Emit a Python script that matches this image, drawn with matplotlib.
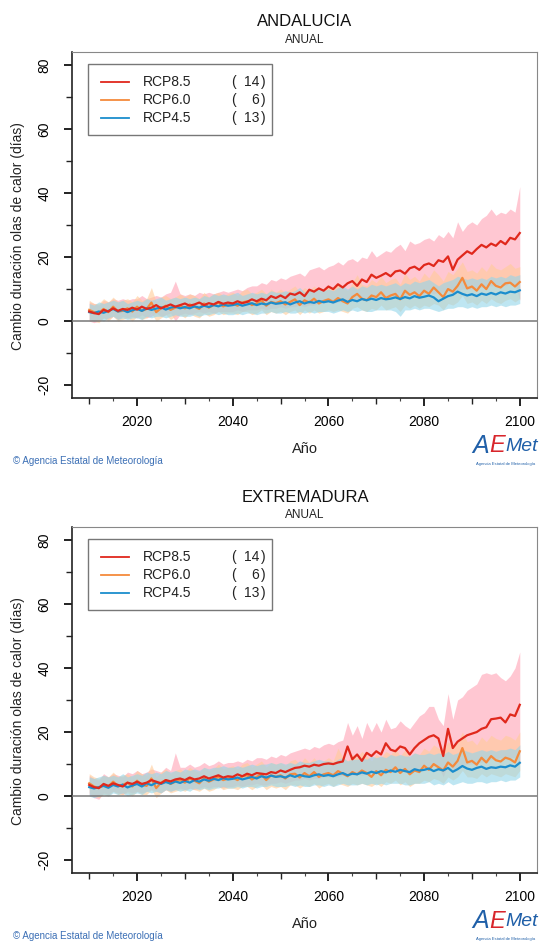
import numpy as np
import matplotlib
matplotlib.use('Agg')
from matplotlib import pyplot as plt
from matplotlib.lines import Line2D
from matplotlib.patches import Rectangle
from matplotlib.ticker import MultipleLocator

plt.rcParams['font.family'] = ['Liberation Sans', 'DejaVu Sans']
plt.rcParams['axes.unicode_minus'] = False

years = np.arange(2010, 2101)
regions = ['ANDALUCIA', 'EXTREMADURA']
scenarios = ['RCP8.5', 'RCP6.0', 'RCP4.5']
n_models = [14, 6, 13]

# ANDALUCIA
and_85 = [3.0, 2.5, 2.2, 3.5, 3.0, 4.0, 3.2, 3.8, 3.5, 4.2,
          3.6, 4.5, 3.8, 4.2, 5.0, 4.0, 4.6, 5.2, 4.5, 5.0,
          5.5, 4.8, 5.2, 5.8, 5.0, 5.6, 5.2, 6.0, 5.4, 5.8,
          5.5, 6.2, 5.6, 6.0, 6.8, 6.2, 7.0, 6.5, 7.8, 7.2,
          8.0, 7.2, 8.6, 8.2, 9.0, 7.8, 9.8, 9.2, 10.2, 9.5,
          10.8, 10.0, 11.5, 10.5, 11.8, 12.5, 11.0, 13.0, 12.2, 14.5,
          13.5, 14.2, 15.0, 14.0, 15.5, 15.8, 14.8, 16.5, 17.0, 16.0,
          17.5, 18.0, 17.2, 19.0, 18.5, 20.2, 16.0, 19.2, 20.5, 21.8,
          21.0, 22.5, 23.8, 23.0, 24.2, 23.5, 25.0, 24.0, 26.0, 25.5, 27.5]
and_85_hi = [6, 5.5, 5, 6.5, 6, 7, 6.5, 7, 6.5, 7,
             7, 8, 7, 7.5, 8, 7.5, 8.5, 9, 12.5, 8.5,
             8, 8.5, 8, 9, 8.5, 9, 8.5, 9, 9.5, 9,
             9.5, 10, 9.5, 10.5, 11, 11, 12, 11.5, 13, 12.5,
             13.5, 13, 14, 14.5, 15, 14, 16, 16.5, 17, 16,
             17, 17.5, 18.5, 17.5, 19, 19.5, 18.5, 20, 19.5, 22,
             20, 21, 22, 21.5, 23, 24, 22, 25, 24, 24.5,
             25.5, 26, 25, 27, 26, 28, 26, 31, 28, 30,
             31, 30, 32, 33, 35, 33, 34, 33.5, 35, 34, 42]
and_85_lo = [0, -0.5, 0, 1, 0.5, 1.5, 0.5, 1.5, 1, 1.5,
             1, 2, 1, 1.5, 2.5, 1.5, 2, 2.5, 0, 2,
             2.5, 2, 2.5, 3, 2.5, 3, 2.5, 3, 3, 3,
             3, 3.5, 3, 3.5, 3.5, 3.5, 4, 3.5, 4, 4,
             4.5, 4, 4.5, 4.5, 5, 4.5, 5, 5, 5.5, 5.5,
             6, 5.5, 6, 6, 6.5, 6.5, 6, 7, 6.5, 7,
             7, 7.5, 7.5, 7, 8, 8, 7.5, 8, 8.5, 8,
             8.5, 9, 8.5, 9, 9, 9.5, 8.5, 9.5, 10, 10,
             10, 10.5, 10.5, 11, 11, 11, 11.5, 11, 12, 11.5, 6.5]
and_60 = [3.5, 2.8, 2.5, 3.8, 2.8, 4.5, 3.0, 3.2, 4.0, 3.0,
          4.5, 3.2, 3.8, 5.8, 2.8, 4.0, 4.8, 3.5, 4.2, 4.8,
          4.0, 5.2, 4.5, 3.8, 5.5, 4.2, 5.0, 5.8, 4.6, 5.2,
          5.5, 4.8, 5.8, 6.2, 5.0, 5.5, 6.5, 4.8, 6.0, 5.6,
          6.2, 5.2, 6.0, 6.8, 5.0, 6.5, 5.8, 7.0, 5.5, 6.3,
          6.8, 6.0, 7.2, 6.2, 5.5, 7.5, 8.5, 7.0, 6.5, 8.0,
          7.5, 9.0, 7.2, 8.0, 8.5, 6.8, 9.5, 8.2, 9.0, 7.8,
          9.5, 8.5, 10.5, 9.0, 7.5, 10.0, 9.2, 11.0, 13.5, 10.2,
          10.8, 9.5, 11.5, 10.0, 12.5, 11.0, 10.5, 11.8, 12.0, 10.8, 12.2]
and_60_hi = [6.5, 5.5, 5.5, 7, 6, 7.5, 6, 6.5, 7, 6,
             8, 6.5, 7, 10.5, 6, 7.5, 8, 7, 7.5, 8.5,
             7.5, 8.5, 8, 7, 9, 7.5, 8.5, 9, 8, 8.5,
             9, 8, 9.5, 10, 8.5, 9, 10, 8.5, 10, 9,
             10, 9, 10, 11, 9, 10.5, 9.5, 11, 9.5, 10,
             11, 10, 11.5, 10.5, 9.5, 12, 14.5, 11.5, 11, 13,
             12, 14, 12, 13, 13.5, 11.5, 15, 13, 14, 12.5,
             15, 13.5, 16, 14.5, 12.5, 15.5, 14.5, 16.5, 18.5, 15.5,
             16, 15, 17, 15.5, 18, 16.5, 16, 17, 18, 16.5, 17]
and_60_lo = [0.5, 0, -0.5, 1, 0, 1.5, 0, 0.5, 1, 0,
             1.5, 0.5, 1, 2.5, 0, 1, 2, 0.5, 1.5, 2,
             1, 2.5, 1.5, 1, 2.5, 1.5, 2, 3, 2, 2.5,
             2.5, 2, 3, 3, 2, 2.5, 3.5, 2, 3, 2.5,
             3, 2, 3, 3.5, 2, 3.5, 2.5, 3.5, 2.5, 3,
             3.5, 3, 3.5, 3, 2.5, 4, 4.5, 3.5, 3, 4,
             3.5, 5, 3.5, 4, 4.5, 3, 5, 4, 5, 4,
             5, 4.5, 5.5, 5, 3.5, 5.5, 5, 6, 8, 5.5,
             6, 5, 6.5, 5.5, 7, 6, 5.5, 6.5, 7, 6, 7]
and_45 = [2.8, 2.5, 3.0, 2.6, 3.2, 3.8, 3.0, 3.5, 2.8, 3.4,
          3.8, 3.2, 4.0, 3.5, 3.9, 4.3, 3.6, 4.2, 4.5, 4.0,
          4.4, 4.0, 4.6, 4.2, 4.8, 4.4, 5.0, 4.6, 5.2, 4.8,
          5.0, 5.4, 4.8, 5.2, 5.6, 5.0, 5.5, 5.2, 5.8, 5.4,
          5.6, 5.9, 5.2, 5.8, 6.2, 5.5, 6.0, 5.7, 6.3, 5.9,
          6.2, 5.8, 6.4, 6.8, 6.0, 6.6, 6.2, 6.9, 6.5, 7.0,
          6.6, 7.2, 6.8, 7.0, 7.4, 6.9, 7.5, 7.1, 7.8, 7.3,
          7.6, 8.0, 7.4, 6.2, 7.0, 7.8, 8.2, 9.2, 8.5, 8.0,
          8.4, 7.8, 8.6, 8.2, 8.8, 8.3, 9.0, 8.6, 9.2, 9.0, 9.6]
and_45_hi = [5.5, 5, 6, 5.5, 6, 6.5, 6, 6.5, 5.5, 6,
             6.5, 6, 7, 6.5, 7, 7.5, 6.5, 7, 7.5, 7,
             7.5, 7, 7.5, 7, 8, 7.5, 8.5, 8, 8.5, 8,
             8.5, 9, 8, 8.5, 9, 8.5, 9, 8.5, 9.5, 9,
             9, 9.5, 9, 9.5, 10.5, 9, 10, 9.5, 10, 9.5,
             10, 9.5, 10.5, 11, 10, 11, 10, 11, 10.5, 11.5,
             11, 11.5, 11, 11.5, 12, 11, 12, 11.5, 12.5, 12,
             12.5, 13, 12, 11, 12, 12.5, 13, 14, 13.5, 13,
             13.5, 13, 13.5, 13, 14, 13.5, 14, 13.5, 14.5, 14, 14.5]
and_45_lo = [0.5, 0, 0.5, 0, 1, 1.5, 0.5, 1, 0.5, 1,
             1, 0.5, 1.5, 1, 1.5, 1.5, 1, 1.5, 2, 1.5,
             1.5, 1.5, 2, 1.5, 2, 2, 2.5, 2, 2.5, 2,
             2, 2.5, 2, 2.5, 2.5, 2, 2.5, 2.5, 3, 2.5,
             2.5, 3, 2.5, 2.5, 3, 2.5, 3, 2.5, 3, 3,
             3, 2.5, 3, 3.5, 3, 3.5, 3, 3.5, 3, 3,
             3.5, 3.5, 3.5, 3.5, 3, 1.5, 3.5, 3.5, 4, 3.5,
             4, 4, 3.5, 3, 3.5, 4, 4, 4.5, 4.5, 4,
             4.5, 4, 4.5, 4.5, 5, 4.5, 5, 4.5, 5, 5, 5.5]

# EXTREMADURA
ext_85 = [3.5, 2.8, 2.5, 3.8, 3.2, 4.0, 3.5, 3.0, 4.2, 3.8,
          4.5, 3.8, 4.2, 5.0, 4.5, 4.0, 5.0, 4.6, 5.2, 5.5,
          5.0, 5.8, 5.2, 5.5, 6.2, 5.5, 6.0, 6.5, 5.8, 6.2,
          6.0, 6.8, 6.2, 7.0, 6.5, 7.2, 7.0, 6.8, 7.5, 7.2,
          8.0, 7.5, 8.2, 8.8, 9.0, 9.5, 9.2, 9.8, 9.5, 10.0,
          10.2, 10.0, 10.5, 10.8, 15.5, 11.5, 13.0, 11.0, 13.5, 12.5,
          14.0, 13.0, 16.5, 14.5, 14.0, 15.5, 15.0, 13.0, 15.0, 16.5,
          17.5, 18.5, 19.0, 18.0, 12.5, 21.0, 15.0, 17.0, 18.0, 19.0,
          19.5, 20.0, 21.0, 21.5, 24.0, 24.2, 24.5, 23.0, 25.5, 25.0, 28.5]
ext_85_hi = [6.5, 5.5, 5, 7, 6, 7, 6.5, 6, 7.5, 7,
             8, 7, 7.5, 8.5, 8, 7.5, 9, 8, 13.5, 9,
             9, 10, 9, 9.5, 10.5, 9.5, 10, 11, 10, 10.5,
             10.5, 11, 10.5, 11.5, 11, 12, 12, 11.5, 12.5, 12,
             13, 12.5, 13.5, 14, 14.5, 15, 14.5, 15.5, 15, 16,
             16.5, 16, 17, 17.5, 23, 19, 22, 18, 23, 20,
             23, 20, 24, 21, 21.5, 23.5, 22, 21, 23, 25,
             26, 28, 28, 24, 22, 32, 24, 30, 31, 33,
             34, 35, 38, 38.5, 38, 38.5, 37, 36, 37.5, 40, 45]
ext_85_lo = [0.5, -0.5, -1, 1, 0.5, 1.5, 1, 0.5, 1.5, 1,
             1.5, 1, 1.5, 2, 1.5, 1, 2, 1.5, 2, 2.5,
             2, 2.5, 2, 2.5, 3, 2.5, 3, 3, 2.5, 3,
             3, 3.5, 3, 3.5, 3.5, 4, 3.5, 3.5, 4, 4,
             4.5, 4, 4.5, 5, 5, 5.5, 5, 5.5, 5.5, 6,
             6, 6, 6, 6.5, 7, 6.5, 7, 6.5, 7, 7,
             7.5, 7, 8, 7.5, 7.5, 8, 8, 7, 8, 8.5,
             9, 9, 9.5, 9, 6, 10, 8, 9, 9.5, 10,
             10, 10.5, 10.5, 11, 11.5, 11.5, 12, 11.5, 12, 12, 10]
ext_60 = [4.0, 3.0, 2.5, 3.5, 3.0, 4.5, 3.2, 3.5, 4.2, 3.0,
          4.8, 3.5, 3.2, 5.5, 2.5, 4.2, 5.0, 3.8, 4.5, 5.0,
          4.2, 5.5, 4.8, 4.0, 5.6, 4.5, 5.2, 6.0, 5.0, 5.5,
          5.8, 5.0, 6.2, 6.5, 5.2, 6.0, 6.8, 5.0, 6.5, 6.0,
          6.5, 5.5, 6.8, 7.0, 5.8, 7.2, 6.2, 7.5, 6.0, 6.8,
          7.2, 6.5, 7.8, 7.0, 6.2, 7.5, 6.8, 8.0, 7.2, 6.0,
          7.8, 6.5, 8.2, 7.5, 9.0, 7.2, 8.5, 6.8, 8.0, 7.5,
          9.5, 8.2, 10.0, 9.0, 8.0, 10.5, 9.2, 11.0, 15.0, 10.5,
          11.0, 9.8, 12.0, 10.5, 12.5, 11.2, 10.8, 12.0, 11.5, 10.5, 14.0]
ext_60_hi = [7, 6, 5.5, 6.5, 6, 7.5, 6, 6.5, 7, 6,
             8, 7, 6.5, 10, 6, 7.5, 8.5, 7, 8, 8.5,
             7.5, 9, 8, 7.5, 9, 8, 8.5, 10, 8.5, 9,
             9.5, 8.5, 10, 10.5, 9, 10, 11, 9, 10.5, 10,
             10.5, 9.5, 11, 11.5, 10, 12, 10.5, 12, 10, 11,
             12, 11, 15, 12, 11, 13, 12, 14, 12.5, 11,
             13, 12, 14, 13, 15, 12.5, 14.5, 12, 13.5, 13,
             15, 14, 16, 15, 14, 17, 15.5, 17, 20, 17,
             17.5, 16, 18.5, 17, 19, 18, 17.5, 19, 18.5, 17.5, 20]
ext_60_lo = [1, 0, -0.5, 0.5, 0, 1.5, 0.5, 0.5, 1, 0,
             1.5, 0.5, 0.5, 2, -0.5, 1, 2, 1, 1.5, 2,
             1.5, 2.5, 2, 1.5, 2.5, 1.5, 2, 3, 2, 2.5,
             2.5, 2, 3, 3, 2, 3, 3.5, 2, 3, 2.5,
             3, 2, 3.5, 3.5, 2.5, 3.5, 3, 4, 2.5, 3.5,
             4, 3, 4, 3.5, 3, 4, 3.5, 4, 3.5, 3,
             4, 3, 4.5, 4, 5, 3.5, 4.5, 3, 4, 4,
             5, 4.5, 5.5, 5, 4, 6, 5, 6, 8, 6,
             6, 5.5, 7, 6, 7, 6.5, 6, 7, 6.5, 6, 8]
ext_45 = [2.8, 2.4, 2.8, 3.2, 2.6, 3.5, 3.0, 3.6, 2.7, 3.3,
          3.8, 3.0, 4.0, 3.4, 4.2, 3.8, 4.4, 3.9, 4.6, 4.1,
          4.8, 4.2, 5.0, 4.5, 5.2, 4.8, 5.4, 5.0, 5.6, 5.2,
          5.4, 5.8, 5.2, 5.6, 6.0, 5.5, 6.2, 5.8, 6.4, 6.0,
          6.2, 5.8, 6.5, 6.0, 6.6, 6.2, 6.0, 6.5, 6.8, 6.3,
          6.6, 6.2, 6.8, 7.2, 6.5, 7.0, 6.8, 7.4, 7.0, 7.6,
          7.2, 7.8, 7.4, 8.0, 7.6, 8.2, 7.8, 7.5, 8.4, 8.0,
          8.2, 8.6, 7.8, 8.4, 8.0, 8.8, 7.6, 8.4, 9.4, 8.6,
          8.2, 8.8, 9.2, 8.5, 9.0, 8.8, 9.2, 9.0, 9.6, 9.2, 10.4]
ext_45_hi = [6, 5.5, 6, 6.5, 6, 6.5, 6, 7, 6, 6.5,
             7, 6.5, 7.5, 7, 7.5, 7, 8, 7.5, 8, 7.5,
             8.5, 8, 8.5, 8, 9, 8.5, 9, 9, 9.5, 9,
             9, 9.5, 9, 9.5, 10, 9.5, 10, 10, 10.5, 10,
             10.5, 10, 10.5, 10, 11, 10.5, 10.5, 11, 11.5, 11,
             11, 10.5, 11.5, 12, 11, 11.5, 11.5, 12, 11.5, 12.5,
             12, 12.5, 12, 13, 12.5, 13, 12.5, 12.5, 13.5, 13,
             13, 13.5, 13, 13.5, 13, 14, 13, 13.5, 14.5, 14,
             13.5, 14, 14.5, 14, 14.5, 14, 14.5, 14.5, 15, 14.5, 16]
ext_45_lo = [0, -0.5, 0, 0.5, 0, 1, 0.5, 1, 0, 0.5,
             1, 0.5, 1.5, 1, 1.5, 1, 2, 1.5, 2, 1.5,
             2, 1.5, 2.5, 2, 2.5, 2, 2.5, 2.5, 3, 2.5,
             2.5, 3, 2.5, 3, 3, 2.5, 3, 3, 3.5, 3,
             3, 3, 3.5, 3, 3.5, 3, 3, 3.5, 3.5, 3,
             3.5, 3, 3.5, 4, 3.5, 3.5, 3.5, 4, 3.5, 4,
             3.5, 4, 3.5, 4, 4, 4, 3.5, 3.5, 4, 4,
             4, 4.5, 3.5, 4, 3.5, 4.5, 3.5, 4, 4.5, 4,
             4, 4.5, 4.5, 4, 4.5, 4.5, 5, 4.5, 5, 5, 6]

panels = [
    (and_85, and_85_lo, and_85_hi, and_60, and_60_lo, and_60_hi, and_45, and_45_lo, and_45_hi),
    (ext_85, ext_85_lo, ext_85_hi, ext_60, ext_60_lo, ext_60_hi, ext_45, ext_45_lo, ext_45_hi),
]

line_cols = ['#e0281c', '#f48a3c', '#1b8dcd']
band_cols = ['#ffb0c0', '#ffcc99', '#94d6ea']
band_alpha = [0.7, 0.6, 0.6]

W, H = 548, 941
fig = plt.figure(figsize=(W / 100, H / 100), dpi=100)


def fy(y):
    return 1 - y / H


def draw_panel(k, off):
    d = panels[k]
    ax = fig.add_axes([72 / W, fy(398 + off), 465 / W, 346 / H])
    for i in range(3):
        ax.fill_between(years, d[3 * i + 1], d[3 * i + 2], color=band_cols[i],
                        alpha=band_alpha[i], lw=0, zorder=1 + i)
    for i in [1, 2, 0]:
        ax.plot(years, d[3 * i], color=line_cols[i], lw=1.6, zorder=5)
    ax.axhline(0, color='#777777', lw=1.1, zorder=4)

    ax.set_xlim(2006.4, 2103.6)
    ax.set_ylim(-24, 84)
    ax.xaxis.set_minor_locator(MultipleLocator(10))
    ax.yaxis.set_minor_locator(MultipleLocator(10))
    ax.set_xticks(range(2020, 2101, 20))
    ax.set_yticks(range(-20, 81, 20))
    ax.tick_params(which='major', length=6, width=1.4, labelsize=10, color='#222222')
    ax.tick_params(axis='x', which='major', pad=6)
    ax.tick_params(axis='y', which='major', pad=9)
    ax.tick_params(which='minor', length=4, width=1.0, color='#222222')
    ax.tick_params(axis='y', labelrotation=90)
    for lab in ax.get_yticklabels():
        lab.set_va('center')
    sec = ax.secondary_xaxis('bottom')
    sec.set_xticks(range(2015, 2100, 10))
    sec.tick_params(length=2.5, width=0.8, labelbottom=False, color='#444444')
    sec.spines['bottom'].set_visible(False)
    for s in ['top', 'right']:
        ax.spines[s].set_color('#888888')
    for s in ['left', 'bottom']:
        ax.spines[s].set_color('#222222')
        ax.spines[s].set_linewidth(1.2)

    # legend box
    ax.add_patch(Rectangle((0.034, 0.760), 0.396, 0.205, transform=ax.transAxes,
                           fill=False, ec='#777777', lw=1.0, zorder=6))
    rows = [0.913, 0.861, 0.809]
    for i in range(3):
        ax.add_line(Line2D([0.062, 0.123], [rows[i], rows[i]], transform=ax.transAxes,
                           color=line_cols[i], lw=1.3, zorder=7))
        ax.text(0.152, rows[i], scenarios[i], transform=ax.transAxes, fontsize=10,
                va='center', ha='left', color='#222222')
        ax.text(0.342, rows[i], '(', transform=ax.transAxes, fontsize=10,
                va='center', ha='left', color='#222222')
        ax.text(0.403, rows[i], str(n_models[i]), transform=ax.transAxes, fontsize=10,
                va='center', ha='right', color='#222222')
        ax.text(0.407, rows[i], ')', transform=ax.transAxes, fontsize=10,
                va='center', ha='left', color='#222222')

    fig.text(305 / W, fy(22 + off), regions[k], ha='center', va='center', fontsize=12, color='#111111')
    fig.text(305 / W, fy(40 + off), 'ANUAL', ha='center', va='center', fontsize=8.5, color='#222222')
    fig.text(18 / W, fy(236 + off), 'Cambio duración olas de calor (días)', rotation=90,
             ha='center', va='center', fontsize=10, color='#222222')
    fig.text(305 / W, fy(449 + off), 'Año', ha='center', va='center', fontsize=10.5, color='#222222')
    fig.text(13 / W, fy(461 + off), '© Agencia Estatal de Meteorología', ha='left', va='center',
             fontsize=7, color='#3b6fb5')
    # AEMet logo as text
    fig.text(472 / W, fy(446 + off), 'A', ha='left', va='center', fontsize=18, style='italic',
             color='#1f5fa8')
    fig.text(489 / W, fy(446 + off), 'E', ha='left', va='center', fontsize=17, style='italic',
             color='#d8262c')
    fig.text(505 / W, fy(447 + off), 'Met', ha='left', va='center', fontsize=14, style='italic',
             color='#1f5fa8')
    fig.text(476 / W, fy(464 + off), 'Agencia Estatal de Meteorología', ha='left', va='center',
             fontsize=3, color='#1f5fa8')
    return ax


ax1 = draw_panel(0, 0)
ax2 = draw_panel(1, 475)

fig.savefig('out.png', dpi=100, facecolor='white')
